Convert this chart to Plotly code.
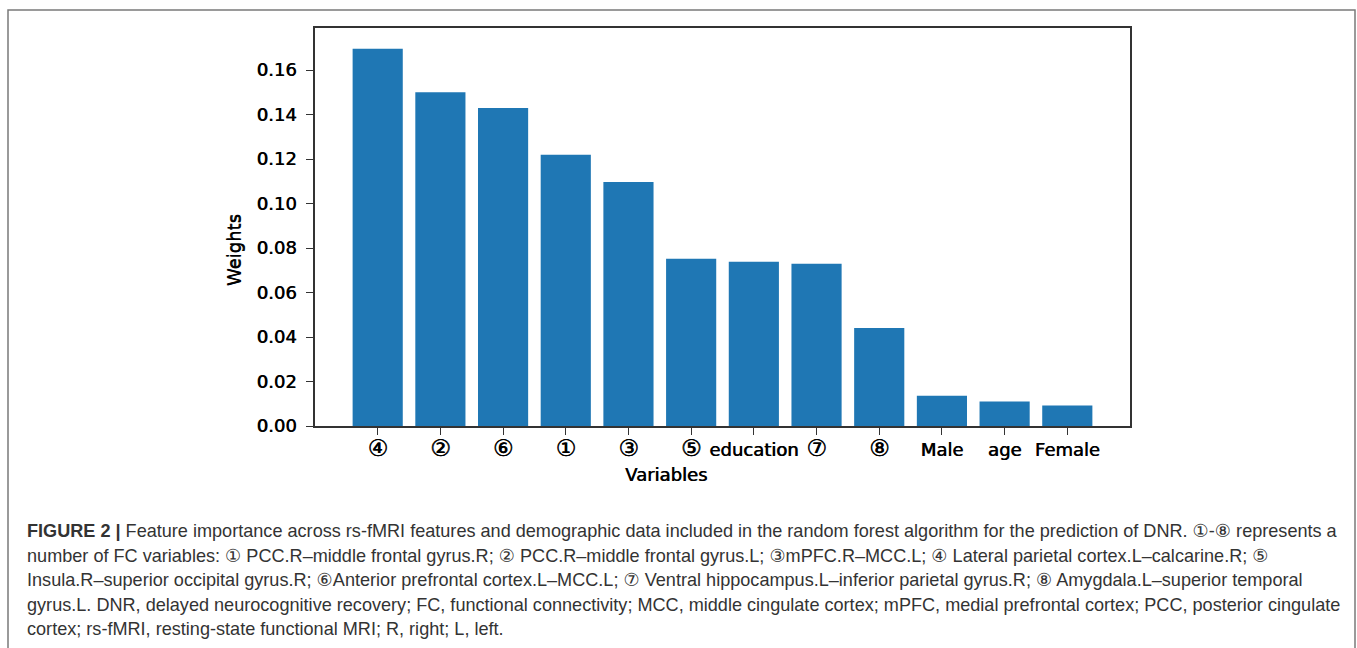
import plotly.graph_objects as go

categories = ["④", "②", "⑥", "①", "③", "⑤", "education", "⑦", "⑧", "Male", "age", "Female"]
weights = [0.1696, 0.1500, 0.1429, 0.1219, 0.1097, 0.0752, 0.0738, 0.0729, 0.0441, 0.0136, 0.0110, 0.0092]
y_ticks = [0.00, 0.02, 0.04, 0.06, 0.08, 0.10, 0.12, 0.14, 0.16]
caption_lines = [
    "<b>FIGURE 2 |</b> Feature importance across rs-fMRI features and demographic data included in the random forest algorithm for the prediction of DNR. ①-⑧ represents a",
    "number of FC variables: ① PCC.R–middle frontal gyrus.R; ② PCC.R–middle frontal gyrus.L; ③mPFC.R–MCC.L; ④ Lateral parietal cortex.L–calcarine.R; ⑤",
    "Insula.R–superior occipital gyrus.R; ⑥Anterior prefrontal cortex.L–MCC.L; ⑦ Ventral hippocampus.L–inferior parietal gyrus.R; ⑧ Amygdala.L–superior temporal",
    "gyrus.L. DNR, delayed neurocognitive recovery; FC, functional connectivity; MCC, middle cingulate cortex; mPFC, medial prefrontal cortex; PCC, posterior cingulate",
    "cortex; rs-fMRI, resting-state functional MRI; R, right; L, left.",
]

W, H = 1357, 648
L, R, T, B = 315, 1130, 28, 426
PX_PER_UNIT = 2225.0


def px(x):
    return (x - L) / (R - L)


def py(y):
    return (B - y) / (B - T)


FONT = "DejaVu Sans, Liberation Sans, Arial, sans-serif"
CAP_FONT = "Liberation Sans, Arial, DejaVu Sans, sans-serif"
HEAVY = "0.6px 0 0 #000000"


def tick_label(c):
    if len(c) == 1 and 0x2460 <= ord(c) <= 0x2473:
        return f"<span style='font-size:23px'>{c}</span>"
    return c


fig = go.Figure(
    go.Bar(
        x=categories,
        y=weights,
        width=0.8,
        marker=dict(color="#1f77b4", line=dict(width=0)),
    )
)

fig.update_layout(
    width=W,
    height=H,
    margin=dict(l=L, r=W - R, t=T, b=H - B),
    paper_bgcolor="white",
    plot_bgcolor="white",
    showlegend=False,
    font=dict(family=FONT, color="#000000"),
    bargap=0.2,
)

fig.update_xaxes(
    range=[-1, 12],
    tickmode="array",
    tickvals=categories,
    ticktext=[tick_label(c) for c in categories],
    showline=True,
    mirror=True,
    linecolor="#333333",
    linewidth=1.5,
    ticks="outside",
    ticklen=7,
    tickwidth=1.3,
    tickcolor="#333333",
    tickfont=dict(size=18, family=FONT, color="#000000", shadow=HEAVY),
    showgrid=False,
    zeroline=False,
)

fig.update_yaxes(
    range=[0, (B - T) / PX_PER_UNIT],
    tickvals=y_ticks,
    ticktext=[f"{v:.2f}" for v in y_ticks],
    showline=True,
    mirror=True,
    linecolor="#333333",
    linewidth=1.5,
    ticks="outside",
    ticklen=7,
    tickwidth=1.3,
    tickcolor="#333333",
    ticklabelstandoff=6,
    tickfont=dict(size=18, family=FONT, color="#000000", shadow=HEAVY),
    showgrid=False,
    zeroline=False,
)

# axis titles
fig.add_annotation(
    x=px(666), y=py(474), xref="paper", yref="paper",
    xanchor="center", yanchor="middle", showarrow=False,
    text="Variables", font=dict(size=18, family=FONT, color="#000000", shadow=HEAVY),
)
fig.add_annotation(
    x=px(233), y=py(250), xref="paper", yref="paper",
    xanchor="center", yanchor="middle", showarrow=False, textangle=-90,
    text="Weights", font=dict(size=18, family=FONT, color="#000000", shadow="0 0.6px 0 #000000"),
)

# outer figure border
fig.add_shape(
    type="rect",
    xref="paper", yref="paper",
    x0=px(8), x1=px(1355), y0=py(10), y1=py(700),
    line=dict(color="#7a7a7a", width=1.5),
    fillcolor="rgba(0,0,0,0)",
    layer="below",
)

line_y = [531, 555.5, 580, 604.5, 629]
for text, yy in zip(caption_lines, line_y):
    fig.add_annotation(
        x=px(25), y=py(yy),
        xref="paper", yref="paper",
        xanchor="left", yanchor="middle",
        text=text,
        showarrow=False,
        font=dict(size=18.1, family=CAP_FONT, color="#333333"),
        align="left",
    )

fig.write_html(
    "out.html",
    config={"displayModeBar": False},
    post_script="document.body.style.margin='0px';document.body.style.padding='0px';document.body.style.overflow='hidden';",
)
